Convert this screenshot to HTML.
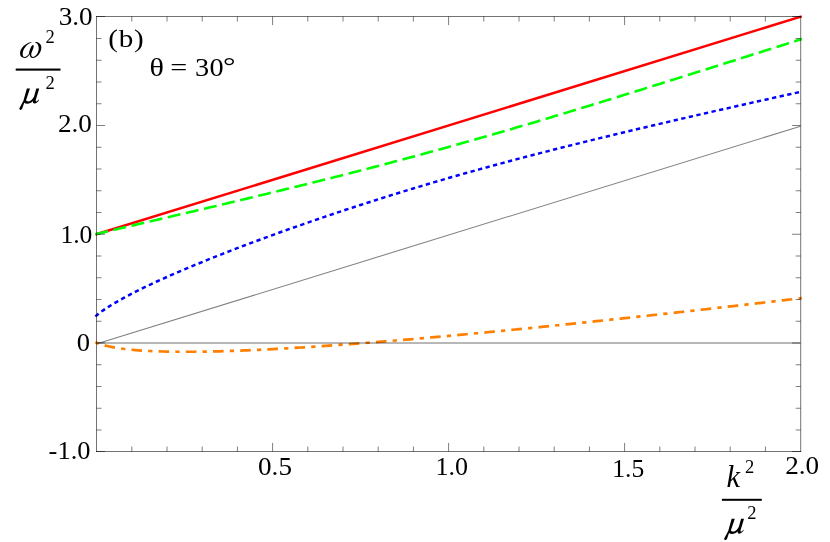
<!DOCTYPE html>
<html><head><meta charset="utf-8"><title>plot</title>
<style>
html,body{margin:0;padding:0;background:#fff;}
body{width:830px;height:542px;overflow:hidden;}
svg{display:block;will-change:transform;}
text{font-family:"Liberation Serif",serif;fill:#000;}
.t{font-size:26px;}
.it{font-size:30px;font-style:italic;}
.sup{font-size:18.5px;}
</style></head><body>
<svg width="830" height="542" viewBox="0 0 830 542">
<rect width="830" height="542" fill="#fff"/>
<!-- axis y=0 and light cone -->
<path d="M97,343.75 L800.5,126.25" stroke="#808080" stroke-width="1.05" fill="none"/>
<!-- curves -->
<path d="M95.5,234.56 L801.7,16.38" stroke="#ff0000" stroke-width="2.5" fill="none"/>
<path d="M95.30,234.29 L96.50,234.00 L98.26,233.58 L100.02,233.16 L101.78,232.74 L103.54,232.33 L105.30,231.91 L107.06,231.50 L108.82,231.08 L110.58,230.67 L112.34,230.25 L114.10,229.84 L115.86,229.42 L117.62,229.01 L119.38,228.60 L121.14,228.19 L122.90,227.77 L124.66,227.36 L126.42,226.95 L128.18,226.54 L129.94,226.13 L131.70,225.71 L135.22,224.89 L138.74,224.07 L142.26,223.25 L145.78,222.43 L149.30,221.61 L152.82,220.78 L156.34,219.96 L159.86,219.14 L163.38,218.32 L166.90,217.50 L170.42,216.67 L173.94,215.85 L177.46,215.03 L180.98,214.20 L184.50,213.38 L188.02,212.55 L191.54,211.73 L195.06,210.90 L198.58,210.07 L202.10,209.24 L205.62,208.41 L209.14,207.58 L212.66,206.75 L216.18,205.92 L219.70,205.09 L223.22,204.25 L226.74,203.42 L230.26,202.58 L233.78,201.74 L237.30,200.90 L240.82,200.06 L244.34,199.22 L247.86,198.38 L251.38,197.54 L254.90,196.69 L258.42,195.84 L261.94,195.00 L265.46,194.15 L268.98,193.30 L272.50,192.44 L276.02,191.59 L279.54,190.73 L283.06,189.88 L286.58,189.02 L290.10,188.16 L293.62,187.30 L297.14,186.43 L300.66,185.57 L304.18,184.70 L307.70,183.83 L311.22,182.96 L314.74,182.08 L318.26,181.21 L321.78,180.33 L325.30,179.45 L328.82,178.57 L332.34,177.68 L335.86,176.80 L339.38,175.91 L342.90,175.02 L346.42,174.12 L349.94,173.23 L353.46,172.33 L356.98,171.43 L360.50,170.52 L364.02,169.61 L367.54,168.71 L371.06,167.79 L374.58,166.88 L378.10,165.96 L381.62,165.04 L385.14,164.12 L388.66,163.19 L392.18,162.27 L395.70,161.33 L399.22,160.40 L402.74,159.46 L406.26,158.52 L409.78,157.58 L413.30,156.63 L416.82,155.68 L420.34,154.73 L423.86,153.77 L427.38,152.82 L430.90,151.85 L434.42,150.89 L437.94,149.92 L441.46,148.95 L444.98,147.98 L448.50,147.00 L452.02,146.02 L455.54,145.04 L459.06,144.05 L462.58,143.06 L466.10,142.07 L469.62,141.07 L473.14,140.08 L476.66,139.07 L480.18,138.07 L483.70,137.06 L487.22,136.05 L490.74,135.04 L494.26,134.02 L497.78,133.01 L501.30,131.99 L504.82,130.96 L508.34,129.94 L511.86,128.91 L515.38,127.87 L518.90,126.84 L522.42,125.80 L525.94,124.76 L529.46,123.72 L532.98,122.68 L536.50,121.63 L540.02,120.58 L543.54,119.53 L547.06,118.48 L550.58,117.42 L554.10,116.37 L557.62,115.31 L561.14,114.25 L564.66,113.18 L568.18,112.12 L571.70,111.05 L575.22,109.98 L578.74,108.91 L582.26,107.84 L585.78,106.76 L589.30,105.69 L592.82,104.61 L596.34,103.53 L599.86,102.45 L603.38,101.37 L606.90,100.29 L610.42,99.20 L613.94,98.12 L617.46,97.03 L620.98,95.94 L624.50,94.85 L628.02,93.76 L631.54,92.67 L635.06,91.58 L638.58,90.48 L642.10,89.39 L645.62,88.29 L649.14,87.19 L652.66,86.10 L656.18,85.00 L659.70,83.90 L663.22,82.80 L666.74,81.69 L670.26,80.59 L673.78,79.49 L677.30,78.38 L680.82,77.28 L684.34,76.17 L687.86,75.07 L691.38,73.96 L694.90,72.85 L698.42,71.75 L701.94,70.64 L705.46,69.53 L708.98,68.42 L712.50,67.31 L716.02,66.20 L719.54,65.09 L723.06,63.98 L726.58,62.86 L730.10,61.75 L733.62,60.64 L737.14,59.53 L740.66,58.41 L744.18,57.30 L747.70,56.18 L751.22,55.07 L754.74,53.95 L758.26,52.84 L761.78,51.72 L765.30,50.61 L768.82,49.49 L772.34,48.37 L775.86,47.26 L779.38,46.14 L782.90,45.02 L786.42,43.91 L789.94,42.79 L793.46,41.67 L796.98,40.55 L800.50,39.43 L801.80,39.02" stroke="#00ff00" stroke-width="2.6" fill="none" stroke-dasharray="13 5.6"/>
<path d="M95.30,316.36 L96.50,315.40 L98.26,313.99 L100.02,312.64 L101.78,311.36 L103.54,310.12 L105.30,308.92 L107.06,307.76 L108.82,306.63 L110.58,305.53 L112.34,304.45 L114.10,303.39 L115.86,302.36 L117.62,301.34 L119.38,300.34 L121.14,299.35 L122.90,298.38 L124.66,297.42 L126.42,296.48 L128.18,295.54 L129.94,294.62 L131.70,293.70 L135.22,291.91 L138.74,290.14 L142.26,288.41 L145.78,286.71 L149.30,285.03 L152.82,283.38 L156.34,281.75 L159.86,280.14 L163.38,278.54 L166.90,276.97 L170.42,275.41 L173.94,273.87 L177.46,272.35 L180.98,270.84 L184.50,269.34 L188.02,267.86 L191.54,266.38 L195.06,264.92 L198.58,263.48 L202.10,262.04 L205.62,260.61 L209.14,259.19 L212.66,257.79 L216.18,256.39 L219.70,255.00 L223.22,253.62 L226.74,252.25 L230.26,250.88 L233.78,249.53 L237.30,248.18 L240.82,246.84 L244.34,245.50 L247.86,244.18 L251.38,242.86 L254.90,241.55 L258.42,240.24 L261.94,238.95 L265.46,237.65 L268.98,236.37 L272.50,235.09 L276.02,233.82 L279.54,232.55 L283.06,231.29 L286.58,230.03 L290.10,228.79 L293.62,227.54 L297.14,226.30 L300.66,225.07 L304.18,223.85 L307.70,222.63 L311.22,221.41 L314.74,220.20 L318.26,219.00 L321.78,217.80 L325.30,216.61 L328.82,215.42 L332.34,214.23 L335.86,213.06 L339.38,211.88 L342.90,210.72 L346.42,209.56 L349.94,208.40 L353.46,207.25 L356.98,206.10 L360.50,204.96 L364.02,203.82 L367.54,202.69 L371.06,201.57 L374.58,200.45 L378.10,199.33 L381.62,198.22 L385.14,197.11 L388.66,196.01 L392.18,194.92 L395.70,193.83 L399.22,192.74 L402.74,191.66 L406.26,190.59 L409.78,189.52 L413.30,188.45 L416.82,187.39 L420.34,186.34 L423.86,185.29 L427.38,184.24 L430.90,183.20 L434.42,182.16 L437.94,181.13 L441.46,180.11 L444.98,179.08 L448.50,178.07 L452.02,177.05 L455.54,176.05 L459.06,175.04 L462.58,174.05 L466.10,173.05 L469.62,172.06 L473.14,171.08 L476.66,170.10 L480.18,169.12 L483.70,168.15 L487.22,167.18 L490.74,166.22 L494.26,165.26 L497.78,164.31 L501.30,163.36 L504.82,162.41 L508.34,161.47 L511.86,160.53 L515.38,159.59 L518.90,158.66 L522.42,157.73 L525.94,156.81 L529.46,155.89 L532.98,154.97 L536.50,154.06 L540.02,153.15 L543.54,152.24 L547.06,151.34 L550.58,150.44 L554.10,149.55 L557.62,148.65 L561.14,147.76 L564.66,146.87 L568.18,145.99 L571.70,145.11 L575.22,144.23 L578.74,143.35 L582.26,142.48 L585.78,141.61 L589.30,140.74 L592.82,139.88 L596.34,139.01 L599.86,138.15 L603.38,137.30 L606.90,136.44 L610.42,135.59 L613.94,134.73 L617.46,133.89 L620.98,133.04 L624.50,132.19 L628.02,131.35 L631.54,130.51 L635.06,129.67 L638.58,128.84 L642.10,128.00 L645.62,127.17 L649.14,126.34 L652.66,125.51 L656.18,124.68 L659.70,123.85 L663.22,123.03 L666.74,122.20 L670.26,121.38 L673.78,120.56 L677.30,119.75 L680.82,118.93 L684.34,118.11 L687.86,117.30 L691.38,116.49 L694.90,115.67 L698.42,114.86 L701.94,114.06 L705.46,113.25 L708.98,112.44 L712.50,111.64 L716.02,110.83 L719.54,110.03 L723.06,109.23 L726.58,108.43 L730.10,107.63 L733.62,106.83 L737.14,106.03 L740.66,105.24 L744.18,104.44 L747.70,103.65 L751.22,102.85 L754.74,102.06 L758.26,101.27 L761.78,100.48 L765.30,99.69 L768.82,98.90 L772.34,98.11 L775.86,97.33 L779.38,96.54 L782.90,95.76 L786.42,94.97 L789.94,94.19 L793.46,93.40 L796.98,92.62 L800.50,91.84 L801.80,91.55" stroke="#0000ff" stroke-width="2.5" fill="none" stroke-dasharray="4.3 3.46"/>
<path d="M95.30,342.28 L96.50,342.75 L98.26,343.44 L100.02,344.05 L101.78,344.61 L103.54,345.12 L105.30,345.59 L107.06,346.02 L108.82,346.41 L110.58,346.78 L112.34,347.12 L114.10,347.44 L115.86,347.74 L117.62,348.02 L119.38,348.29 L121.14,348.53 L122.90,348.77 L124.66,348.98 L126.42,349.19 L128.18,349.38 L129.94,349.56 L131.70,349.74 L135.22,350.05 L138.74,350.33 L142.26,350.57 L145.78,350.79 L149.30,350.98 L152.82,351.14 L156.34,351.28 L159.86,351.40 L163.38,351.50 L166.90,351.59 L170.42,351.66 L173.94,351.71 L177.46,351.74 L180.98,351.77 L184.50,351.77 L188.02,351.77 L191.54,351.76 L195.06,351.73 L198.58,351.69 L202.10,351.65 L205.62,351.59 L209.14,351.52 L212.66,351.45 L216.18,351.37 L219.70,351.28 L223.22,351.18 L226.74,351.07 L230.26,350.96 L233.78,350.84 L237.30,350.71 L240.82,350.57 L244.34,350.44 L247.86,350.29 L251.38,350.14 L254.90,349.98 L258.42,349.82 L261.94,349.65 L265.46,349.48 L268.98,349.30 L272.50,349.12 L276.02,348.93 L279.54,348.74 L283.06,348.54 L286.58,348.34 L290.10,348.14 L293.62,347.93 L297.14,347.72 L300.66,347.50 L304.18,347.28 L307.70,347.06 L311.22,346.83 L314.74,346.60 L318.26,346.36 L321.78,346.13 L325.30,345.89 L328.82,345.64 L332.34,345.39 L335.86,345.14 L339.38,344.89 L342.90,344.64 L346.42,344.38 L349.94,344.12 L353.46,343.85 L356.98,343.59 L360.50,343.32 L364.02,343.05 L367.54,342.77 L371.06,342.50 L374.58,342.22 L378.10,341.94 L381.62,341.65 L385.14,341.37 L388.66,341.08 L392.18,340.79 L395.70,340.50 L399.22,340.20 L402.74,339.90 L406.26,339.61 L409.78,339.31 L413.30,339.00 L416.82,338.70 L420.34,338.39 L423.86,338.09 L427.38,337.78 L430.90,337.46 L434.42,337.15 L437.94,336.84 L441.46,336.52 L444.98,336.20 L448.50,335.88 L452.02,335.56 L455.54,335.23 L459.06,334.91 L462.58,334.58 L466.10,334.25 L469.62,333.93 L473.14,333.59 L476.66,333.26 L480.18,332.93 L483.70,332.59 L487.22,332.26 L490.74,331.92 L494.26,331.58 L497.78,331.24 L501.30,330.89 L504.82,330.55 L508.34,330.21 L511.86,329.86 L515.38,329.51 L518.90,329.16 L522.42,328.81 L525.94,328.46 L529.46,328.11 L532.98,327.76 L536.50,327.40 L540.02,327.05 L543.54,326.69 L547.06,326.33 L550.58,325.97 L554.10,325.61 L557.62,325.25 L561.14,324.89 L564.66,324.53 L568.18,324.16 L571.70,323.80 L575.22,323.43 L578.74,323.06 L582.26,322.69 L585.78,322.32 L589.30,321.95 L592.82,321.58 L596.34,321.21 L599.86,320.84 L603.38,320.46 L606.90,320.09 L610.42,319.71 L613.94,319.33 L617.46,318.96 L620.98,318.58 L624.50,318.20 L628.02,317.82 L631.54,317.43 L635.06,317.05 L638.58,316.67 L642.10,316.29 L645.62,315.90 L649.14,315.52 L652.66,315.13 L656.18,314.74 L659.70,314.35 L663.22,313.96 L666.74,313.58 L670.26,313.19 L673.78,312.79 L677.30,312.40 L680.82,312.01 L684.34,311.62 L687.86,311.22 L691.38,310.83 L694.90,310.43 L698.42,310.04 L701.94,309.64 L705.46,309.24 L708.98,308.84 L712.50,308.44 L716.02,308.05 L719.54,307.64 L723.06,307.24 L726.58,306.84 L730.10,306.44 L733.62,306.04 L737.14,305.63 L740.66,305.23 L744.18,304.82 L747.70,304.42 L751.22,304.01 L754.74,303.61 L758.26,303.20 L761.78,302.79 L765.30,302.38 L768.82,301.97 L772.34,301.56 L775.86,301.15 L779.38,300.74 L782.90,300.33 L786.42,299.92 L789.94,299.51 L793.46,299.09 L796.98,298.68 L800.50,298.27 L801.80,298.11" stroke="#ff8000" stroke-width="2.7" fill="none" stroke-dasharray="4.3 6.15 10.6 6.15" stroke-dashoffset="0.6"/>
<!-- axis, frame, ticks (drawn over the curves, semi-transparent) -->
<path d="M97,343 H800.2" stroke="#000" stroke-opacity="0.56" stroke-width="1" fill="none"/>
<path d="M96.5,16 V452 M800.7,16 V452 M96,16.5 H801.2 M96,451.5 H801.2" stroke="#000" stroke-opacity="0.55" stroke-width="1" fill="none"/>
<path d="M131.80,451.5 v-5.0 M131.80,16.5 v5.0 M167.00,451.5 v-5.0 M167.00,16.5 v5.0 M202.20,451.5 v-5.0 M202.20,16.5 v5.0 M237.40,451.5 v-5.0 M237.40,16.5 v5.0 M272.60,451.5 v-8.6 M272.60,16.5 v8.6 M307.80,451.5 v-5.0 M307.80,16.5 v5.0 M343.00,451.5 v-5.0 M343.00,16.5 v5.0 M378.20,451.5 v-5.0 M378.20,16.5 v5.0 M413.40,451.5 v-5.0 M413.40,16.5 v5.0 M448.60,451.5 v-8.6 M448.60,16.5 v8.6 M483.80,451.5 v-5.0 M483.80,16.5 v5.0 M519.00,451.5 v-5.0 M519.00,16.5 v5.0 M554.20,451.5 v-5.0 M554.20,16.5 v5.0 M589.40,451.5 v-5.0 M589.40,16.5 v5.0 M624.60,451.5 v-8.6 M624.60,16.5 v8.6 M659.80,451.5 v-5.0 M659.80,16.5 v5.0 M695.00,451.5 v-5.0 M695.00,16.5 v5.0 M730.20,451.5 v-5.0 M730.20,16.5 v5.0 M765.40,451.5 v-5.0 M765.40,16.5 v5.0 M96.5,451.50 h8.6 M800.7,451.50 h-8.6 M96.5,430.00 h5.0 M800.7,430.00 h-5.0 M96.5,408.25 h5.0 M800.7,408.25 h-5.0 M96.5,386.50 h5.0 M800.7,386.50 h-5.0 M96.5,364.75 h5.0 M800.7,364.75 h-5.0 M96.5,343.00 h8.6 M800.7,343.00 h-8.6 M96.5,321.25 h5.0 M800.7,321.25 h-5.0 M96.5,299.50 h5.0 M800.7,299.50 h-5.0 M96.5,277.75 h5.0 M800.7,277.75 h-5.0 M96.5,256.00 h5.0 M800.7,256.00 h-5.0 M96.5,234.25 h8.6 M800.7,234.25 h-8.6 M96.5,212.50 h5.0 M800.7,212.50 h-5.0 M96.5,190.75 h5.0 M800.7,190.75 h-5.0 M96.5,169.00 h5.0 M800.7,169.00 h-5.0 M96.5,147.25 h5.0 M800.7,147.25 h-5.0 M96.5,125.50 h8.6 M800.7,125.50 h-8.6 M96.5,103.75 h5.0 M800.7,103.75 h-5.0 M96.5,82.00 h5.0 M800.7,82.00 h-5.0 M96.5,60.25 h5.0 M800.7,60.25 h-5.0 M96.5,38.50 h5.0 M800.7,38.50 h-5.0 M96.5,16.50 h8.6 M800.7,16.50 h-8.6" stroke="#000" stroke-opacity="0.5" stroke-width="1" fill="none"/>
<!-- tick labels -->
<text class="t" transform="translate(92.7,25.2) scale(1.045,1)" text-anchor="end">3.0</text>
<text class="t" transform="translate(91.9,132.4) scale(1.045,1)" text-anchor="end">2.0</text>
<text class="t" transform="translate(92.4,243.1) scale(0.985,1)" text-anchor="end">1.0</text>
<text class="t" transform="translate(89.9,350.8) scale(1.02,1)" text-anchor="end">0</text>
<text class="t" transform="translate(90.5,459.0) scale(1.018,1)" text-anchor="end">-1.0</text>
<text class="t" transform="translate(275,475.2) scale(1.045,1)" text-anchor="middle">0.5</text>
<text class="t" transform="translate(451.7,475.2) scale(1.0,1)" text-anchor="middle">1.0</text>
<text class="t" transform="translate(628.2,477.3) scale(0.985,1)" text-anchor="middle">1.5</text>
<text class="t" transform="translate(802.2,474.3) scale(1.045,1)" text-anchor="middle">2.0</text>
<!-- annotations -->
<text class="t" transform="translate(108.3,47.2) scale(1.12,1)" letter-spacing="0.7">(b)</text>
<text class="t" transform="translate(149.6,76) scale(1.16,1)">θ</text>
<text class="t" transform="translate(170.3,76) scale(1.16,1)">=</text>
<text class="t" transform="translate(194.9,76) scale(1.09,1)" letter-spacing="0.5">30</text>
<text class="t" transform="translate(222.9,74.3) scale(1.2,1)">°</text>
<!-- y axis label -->
<path d="M31.41,42.06 C25.73,43.07 20.04,48.15 20.04,53.62 C20.04,56.47 22.07,57.97 24.51,57.97 C26.94,57.97 28.77,55.86 29.78,54.23 C29.78,56.47 30.80,58.05 32.83,58.05 C36.89,58.05 41.35,52.81 41.35,47.33 C41.35,44.09 38.71,42.06 35.06,42.06 L35.18,42.55 C37.50,43.28 38.71,45.51 38.71,48.35 C38.71,52.20 36.07,56.91 33.15,56.91 C31.69,56.91 31.20,55.65 31.20,54.23 C31.45,52.00 33.84,48.55 33.72,46.32 C33.68,45.31 33.03,44.90 32.42,45.14 C31.85,45.39 31.45,46.04 31.12,46.77 C30.07,48.96 29.09,51.60 29.01,53.75 C27.96,55.45 26.13,56.99 24.63,56.99 C23.17,56.99 22.68,55.53 22.68,53.91 C22.68,49.77 26.54,43.68 31.53,42.46 Z" fill="#000"/>
<text class="sup" x="45.4" y="43">2</text>
<rect x="15.7" y="68.55" width="44.8" height="2.1" fill="#000"/>
<path id="mu" d="M26.86,88.47 L30.00,88.47 L26.11,99.95 C26.55,101.64 28.74,101.83 30.44,100.70 C31.88,99.76 33.13,98.19 34.08,96.44 L36.27,88.47 L39.22,88.47 L35.77,99.95 C35.46,101.20 36.08,101.71 36.90,101.20 C37.53,100.77 38.03,100.20 38.53,99.45 L39.03,99.89 C37.84,101.96 36.27,103.46 34.58,103.46 C33.13,103.46 32.63,102.46 33.01,101.02 C31.25,102.71 29.37,103.84 27.30,103.84 C26.05,103.84 24.98,103.46 24.23,102.71 L22.59,107.60 C22.16,108.98 21.40,109.99 20.40,109.92 C19.52,109.86 19.14,108.98 19.52,108.11 L23.41,100.70 Z" fill="#000"/>
<text class="sup" x="45.4" y="88.6">2</text>
<!-- x axis label -->
<text class="it" x="726.6" y="486.6" style="font-size:30.5px">k</text>
<text class="sup" x="745" y="472.7">2</text>
<rect x="721.9" y="498.8" width="39.9" height="2" fill="#000"/>
<use href="#mu" transform="translate(704.8,430.2)"/>
<text class="sup" x="747.3" y="519">2</text>
</svg>
</body></html>
